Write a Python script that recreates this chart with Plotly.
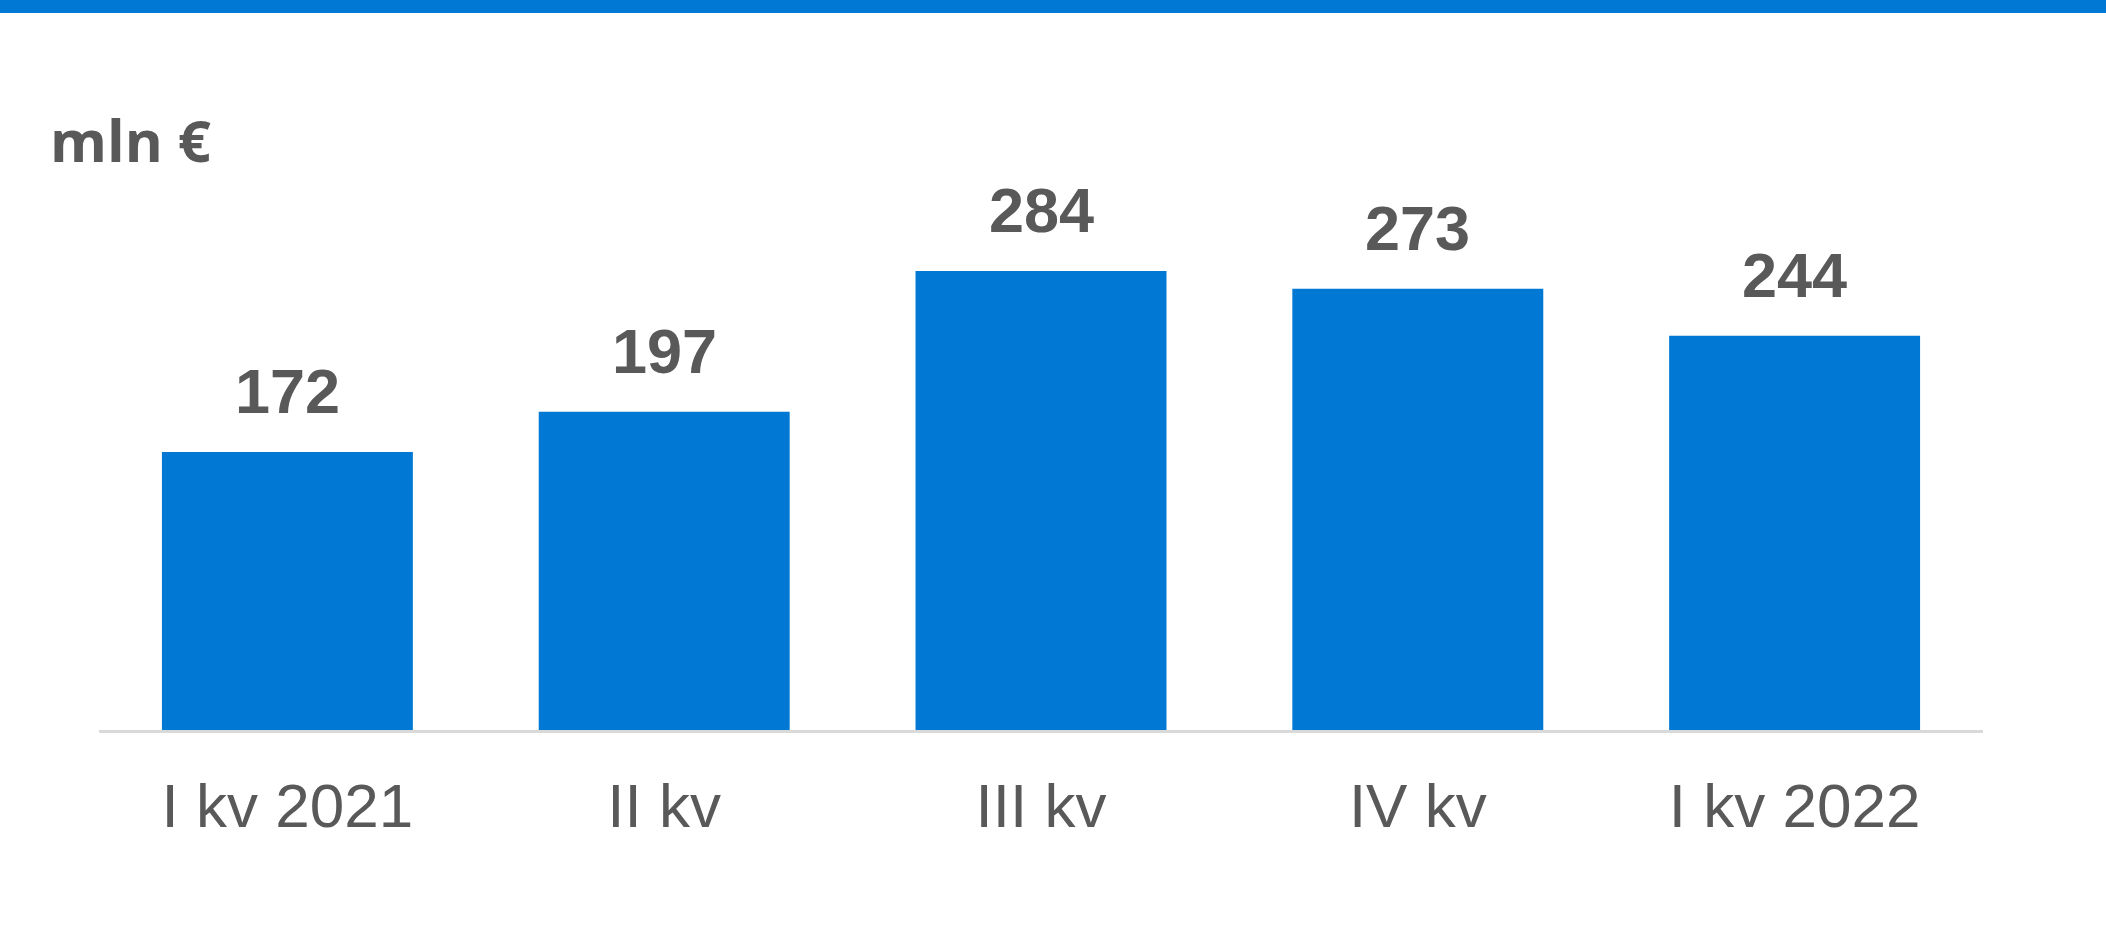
import plotly.graph_objects as go

categories = ["I kv 2021", "II kv", "III kv", "IV kv", "I kv 2022"]
values = [172, 197, 284, 273, 244]
unit_label = "mln €"

BLUE = "#0078D4"
GRAY_TEXT = "#595959"
W, H = 2106, 929
L, R, T, B = 99, 123, 130, 199
plot_w = W - L - R
plot_h = H - T - B

fig = go.Figure()
fig.add_trace(go.Bar(
    x=categories, y=values,
    marker=dict(color=BLUE, line=dict(width=0)),
    width=0.666,
    hoverinfo="skip",
))

for c, v in zip(categories, values):
    fig.add_annotation(
        x=c, y=v, xref="x", yref="y",
        text=f"<b>{v}</b>", showarrow=False,
        yanchor="bottom", yshift=24,
        font=dict(family="Liberation Sans, Arial", size=63, color=GRAY_TEXT),
    )

fig.add_annotation(
    x=(48 - L) / plot_w, y=(H - B - 181) / plot_h, xref="paper", yref="paper",
    xanchor="left", yanchor="bottom", showarrow=False,
    text=f"<b>{unit_label}</b>",
    font=dict(family="Open Sans", size=58, color=GRAY_TEXT),
)

fig.add_shape(
    type="rect", xref="paper", yref="paper",
    x0=-0.1, x1=1.1, y0=1 + (T - 13) / plot_h, y1=1 + (T + 20) / plot_h,
    fillcolor=BLUE, line=dict(width=0), layer="above",
)

fig.update_layout(
    width=W, height=H,
    margin=dict(l=L, r=R, t=T, b=B, pad=0),
    paper_bgcolor="white", plot_bgcolor="white",
    showlegend=False,
    bargap=0.334,
    xaxis=dict(
        range=[-0.5, 4.5],
        showline=True, linecolor="#D9D9D9", linewidth=3,
        showgrid=False, zeroline=False, ticks="",
        ticklabelstandoff=20,
        tickfont=dict(family="Liberation Sans, Arial", size=62, color=GRAY_TEXT),
    ),
    yaxis=dict(
        range=[0, plot_h / 1.616],
        visible=False, showgrid=False, zeroline=False,
    ),
)

fig.write_html(
    "out.html",
    config={"displayModeBar": False},
    post_script="document.body.style.margin='0';document.body.style.overflow='hidden';",
)
